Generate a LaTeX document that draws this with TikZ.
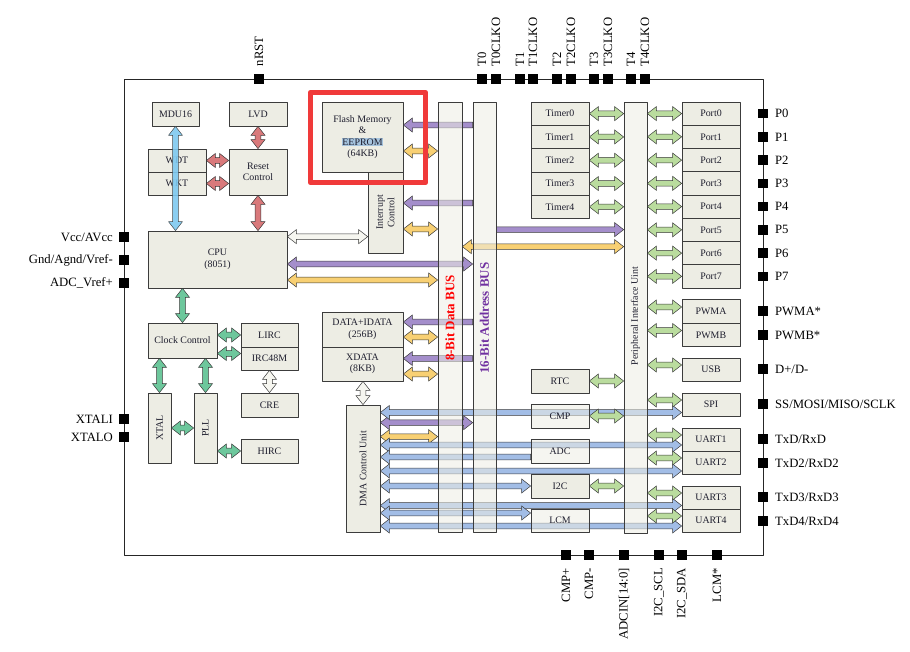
\documentclass[tikz,border=0pt]{standalone}
\usepackage{fontspec}
\setmainfont{Liberation Serif}
\usetikzlibrary{calc,positioning}
\pgfdeclarelayer{bg}
\pgfsetlayers{bg,main}
\definecolor{boxfill}{HTML}{EDEDE4}
\definecolor{boxline}{HTML}{3C3C3C}
\definecolor{boxtxt}{HTML}{1E1E2E}
\definecolor{aline}{HTML}{3A3A3A}
\definecolor{redA}{HTML}{D9797B}
\definecolor{skyA}{HTML}{7EC9F0}
\definecolor{grnA}{HTML}{6DC79C}
\definecolor{grnB}{HTML}{BADC9E}
\definecolor{purA}{HTML}{A48ECB}
\definecolor{yelA}{HTML}{F8D073}
\definecolor{bluA}{HTML}{A2BDE6}
\definecolor{whtA}{HTML}{F6F6F0}
\definecolor{hired}{HTML}{F03A3A}
\definecolor{eehl}{HTML}{A6C4DE}
\definecolor{abusc}{HTML}{7030A0}
\tikzset{
  box/.style={draw=boxline, line width=0.7pt, fill=boxfill, text=boxtxt, inner sep=0pt,
    align=center, font=\fontsize{9.9}{11.5}\selectfont},
  glass/.style={fill opacity=0.55, text opacity=1},
  pad/.style={fill=black, inner sep=0pt, minimum size=9.5pt},
  pinlbl/.style={inner sep=0pt, font=\fontsize{12.7}{14}\selectfont},
  lbl90/.style={rotate=90, align=center, inner sep=0pt, text=boxtxt,
    font=\fontsize{9.9}{11.5}\selectfont},
  buslbl/.style={rotate=90, inner sep=0pt, font=\fontsize{13}{15}\selectfont\bfseries},
  hilite/.style={draw=hired, line width=5.5pt},
  fat/.style={draw=aline, line width=0.5pt, fill=#1, to path={let \p1=(\tikztostart), \p2=(\tikztotarget) in
    -- ($(\p1)!9pt!(\p2)!7pt!90:(\p2)$) -- ($(\p1)!9pt!(\p2)!2.8pt!90:(\p2)$)
    -- ($(\p2)!9pt!(\p1)!2.8pt!90:(\p2)$) -- ($(\p2)!9pt!(\p1)!7pt!90:(\p2)$)
    -- (\p2)
    -- ($(\p2)!9pt!(\p1)!7pt!-90:(\p2)$) -- ($(\p2)!9pt!(\p1)!2.8pt!-90:(\p2)$)
    -- ($(\p1)!9pt!(\p2)!2.8pt!-90:(\p2)$) -- ($(\p1)!9pt!(\p2)!7pt!-90:(\p2)$)
    -- cycle}},
  fatto/.style={draw=aline, line width=0.5pt, fill=#1, to path={let \p1=(\tikztostart), \p2=(\tikztotarget) in
    -- ($(\p1)!2.8pt!90:(\p2)$)
    -- ($(\p2)!9pt!(\p1)!2.8pt!90:(\p2)$) -- ($(\p2)!9pt!(\p1)!7pt!90:(\p2)$)
    -- (\p2)
    -- ($(\p2)!9pt!(\p1)!7pt!-90:(\p2)$) -- ($(\p2)!9pt!(\p1)!2.8pt!-90:(\p2)$)
    -- ($(\p1)!2.8pt!-90:(\p2)$) -- cycle}}
}
\begin{document}
\begin{tikzpicture}[x=1pt, y=-1pt, line join=round]
\useasboundingbox (0,0) rectangle (910,652);
\draw[line width=0.8pt, draw=black!85] (124,79) rectangle (763,555);

% pins
\foreach \x/\t/\nm in {259/nRST/rst, 482/T0/t0, 496/T0CLKO/t0c, 520/T1/t1, 533/T1CLKO/t1c,
    557/T2/t2, 571/T2CLKO/t2c, 594/T3/t3, 608/T3CLKO/t3c, 631/T4/t4, 645/T4CLKO/t4c} {
  \node[pad] (\nm) at (\x,79) {};
  \node[pinlbl, rotate=90, anchor=west] (\nm lbl) at ([yshift=7.5pt]\nm.north) {\t};
}
\foreach \y/\t/\nm in {237/{Vcc/AVcc}/vcc, 260/{Gnd/Agnd/Vref-}/gnd, 283/{ADC\_Vref+}/vref,
    419/XTALI/xi, 437/XTALO/xo} {
  \node[pad] (\nm) at (124,\y) {};
  \node[pinlbl, anchor=east] (\nm lbl) at ([xshift=-6pt]\nm.west) {\t};
}
\foreach \i in {0,...,7} {
  \node[pad] (pp\i) at (763,113.6+23.25*\i) {};
  \node[pinlbl, anchor=west] (pp\i lbl) at ([xshift=7pt]pp\i.east) {P\i};
}
\foreach \y/\t/\nm in {311/PWMA*/ppwa, 335/PWMB*/ppwb, 369/{D+/D-}/pusb, 404/{SS/MOSI/MISO/SCLK}/pspi,
    439/{TxD/RxD}/pu1, 463/{TxD2/RxD2}/pu2, 497/{TxD3/RxD3}/pu3, 521/{TxD4/RxD4}/pu4} {
  \node[pad] (\nm) at (763,\y) {};
  \node[pinlbl, anchor=west] (\nm lbl) at ([xshift=7pt]\nm.east) {\t};
}
\foreach \x/\t/\nm in {566/CMP+/bcmpp, 589/CMP-/bcmpm, 624/ADCIN[14:0]/badc,
    659/I2C\_SCL/bscl, 682/I2C\_SDA/bsda, 717/LCM*/blcm} {
  \node[pad] (\nm) at (\x,555) {};
  \node[pinlbl, rotate=90, anchor=east] (\nm lbl) at ([yshift=-8pt]\nm.south) {\t};
}

% core and reset
\node[box, minimum width=47pt, minimum height=24pt] (mdu) at (175.5,114) {MDU16};
\node[box, minimum width=58pt, minimum height=24pt] (lvd) at (258,114) {LVD};
\node[box, minimum width=58pt, minimum height=23pt] (wdt) at (177,160.5) {WDT};
\node[box, minimum width=58pt, minimum height=23pt] (wkt) at (177,183.5) {WKT};
\node[box, minimum width=58pt, minimum height=46pt] (reset) at (258,172) {Reset\\Control};
\node[box, minimum width=139pt, minimum height=57pt] (cpu) at (217.5,259.5) {CPU\\(8051)};

% clocks
\node[box, minimum width=69pt, minimum height=35pt] (clk) at (182.5,340.5) {Clock Control};
\node[box, minimum width=57pt, minimum height=24pt] (lirc) at (269.5,335) {LIRC};
\node[box, minimum width=57pt, minimum height=23pt] (irc) at (269.5,358.5) {IRC48M};
\node[box, minimum width=57pt, minimum height=24pt] (cre) at (269.5,405) {CRE};
\node[box, minimum width=23pt, minimum height=70pt, label={[lbl90]center:XTAL}] (xtal) at (159.5,428) {};
\node[box, minimum width=23pt, minimum height=70pt, label={[lbl90]center:PLL}] (pll) at (205.5,428) {};
\node[box, minimum width=57pt, minimum height=24pt] (hirc) at (269.5,451) {HIRC};

% memories
\node[box, minimum width=81pt, minimum height=70pt] (flash) at (362.5,137)
  {Flash Memory\\\&\\{\setlength{\fboxsep}{0.4pt}\colorbox{eehl}{EEPROM}}\\(64KB)};
\node[box, minimum width=35pt, minimum height=81pt, label={[lbl90]center:Interrupt\\Control}] (irq) at (385.5,212.5) {};
\node[box, minimum width=81pt, minimum height=35pt] (data) at (362.5,329.5) {DATA+IDATA\\(256B)};
\node[box, minimum width=81pt, minimum height=34pt] (xdata) at (362.5,364) {XDATA\\(8KB)};
\node[box, minimum width=34pt, minimum height=127pt, label={[lbl90]center:DMA Control Unit}] (dma) at (363,468.5) {};

% buses
\node[box, glass, minimum width=24pt, minimum height=430pt] (dbus) at (450,317) {};
\node[box, glass, minimum width=23pt, minimum height=430pt] (abus) at (484.5,317) {};
\node[buslbl, text=red] (dlbl) at (450,318) {8-Bit Data BUS};
\node[buslbl, text=abusc] (albl) at (484.5,318) {16-Bit Address BUS};

% peripherals
\foreach \i in {0,...,4}
  \node[box, minimum width=58pt, minimum height=23.3pt] (tmr\i) at (560,113.65+23.3*\i) {Timer\i};
\node[box, minimum width=58pt, minimum height=24pt] (rtc) at (560,381) {RTC};
\node[box, glass, minimum width=58pt, minimum height=24pt] (cmp) at (560,416) {CMP};
\node[box, glass, minimum width=58pt, minimum height=24pt] (adc) at (560,451) {ADC};
\node[box, minimum width=58pt, minimum height=24pt] (i2c) at (560,486) {I2C};
\node[box, glass, minimum width=58pt, minimum height=23pt] (lcm) at (560,520.5) {LCM};
\node[box, glass, minimum width=23pt, minimum height=431pt] (piu) at (635.5,317.5) {};
\node[lbl90] (piulbl) at (635.5,316) {Peripheral Interface Uint};
\foreach \i in {0,...,7}
  \node[box, minimum width=58pt, minimum height=23.25pt] (port\i) at (711,113.6+23.25*\i) {Port\i};
\node[box, minimum width=58pt, minimum height=23.5pt] (pwma) at (711,311.5) {PWMA};
\node[box, minimum width=58pt, minimum height=23.5pt] (pwmb) at (711,335) {PWMB};
\node[box, minimum width=58pt, minimum height=23pt] (usb) at (711,369.5) {USB};
\node[box, minimum width=58pt, minimum height=23pt] (spi) at (711,404.5) {SPI};
\node[box, minimum width=58pt, minimum height=23pt] (uart1) at (711,439.5) {UART1};
\node[box, minimum width=58pt, minimum height=23pt] (uart2) at (711,462.5) {UART2};
\node[box, minimum width=58pt, minimum height=23pt] (uart3) at (711,497.5) {UART3};
\node[box, minimum width=58pt, minimum height=23pt] (uart4) at (711,520.5) {UART4};

\begin{pgfonlayer}{bg}
% reset and clock links
\draw[fat=redA] (lvd.south) to (reset.north);
\draw[fat=redA] (wdt.east) to (wdt.east -| reset.west);
\draw[fat=redA] (wkt.east) to (wkt.east -| reset.west);
\draw[fat=redA] (reset.south) to (reset.south |- cpu.north);
\draw[fat=grnA] (clk.north |- cpu.south) to (clk.north);
\draw[fat=grnA] (clk.east |- lirc.west) to (lirc.west);
\draw[fat=grnA] ([yshift=5pt]irc.west -| clk.east) to ([yshift=5pt]irc.west);
\draw[fat=grnA] (xtal.north |- clk.south) to (xtal.north);
\draw[fat=grnA] (pll.north |- clk.south) to (pll.north);
\draw[fat=grnA] (xtal.east) to (pll.west);
\draw[fat=grnA] (hirc.west -| pll.east) to (hirc.west);
\draw[fat=whtA] (irc.south) to (cre.north);

% bus links
\draw[fatto=purA] ([yshift=12pt]flash.east -| abus.west) to ([yshift=12pt]flash.east);
\draw[fat=yelA] ([yshift=-14pt]flash.east) to ([yshift=-14pt]flash.east -| dbus.west);
\draw[fatto=purA] ([yshift=9.5pt]irq.east -| abus.west) to ([yshift=9.5pt]irq.east);
\draw[fat=yelA] ([yshift=-16.5pt]irq.east) to ([yshift=-16.5pt]irq.east -| dbus.west);
\draw[fat=whtA] ([yshift=-6pt]cpu.north east) to ([yshift=-6pt]cpu.north east -| irq.west);
\draw[fat=purA] ([yshift=-4.5pt]cpu.east) to ([yshift=-4.5pt]cpu.east -| abus.west);
\draw[fat=yelA] ([yshift=-20.5pt]cpu.east) to ([yshift=-20.5pt]cpu.east -| dbus.west);
\draw[fatto=purA] ([yshift=7.5pt]data.east -| abus.west) to ([yshift=7.5pt]data.east);
\draw[fat=yelA] ([yshift=-7.5pt]data.east) to ([yshift=-7.5pt]data.east -| dbus.west);
\draw[fatto=purA] ([yshift=5.5pt]xdata.east -| abus.west) to ([yshift=5.5pt]xdata.east);
\draw[fat=yelA] ([yshift=-10pt]xdata.east) to ([yshift=-10pt]xdata.east -| dbus.west);
\draw[fat=whtA] (dma.north |- xdata.south) to (dma.north);
\draw[fatto=purA] ([yshift=-128pt]abus.north east) to ([yshift=-128pt]abus.north east -| piu.west);
\draw[fat=yelA] ([yshift=-145pt]dbus.north east) to ([yshift=-145pt]dbus.north east -| piu.west);

% dma links
\draw[fat=purA] ([yshift=-18pt]dma.north east) to ([yshift=-18pt]dma.north east -| abus.west);
\draw[fat=yelA] ([yshift=-32pt]dma.north east) to ([yshift=-32pt]dma.north east -| dbus.west);
\draw[fat=bluA] ([yshift=-8pt]spi.west -| dma.east) to ([yshift=-8pt]spi.west);
\draw[fat=bluA] ([yshift=-5.5pt]uart1.west -| dma.east) to ([yshift=-5.5pt]uart1.west);
\draw[fatto=bluA] ([yshift=-6pt]adc.west) to ([yshift=-6pt]adc.west -| dma.east);
\draw[fat=bluA] ([yshift=-8.5pt]uart2.west -| dma.east) to ([yshift=-8.5pt]uart2.west);
\draw[fat=bluA] (i2c.west -| dma.east) to (i2c.west);
\draw[fat=bluA] ([yshift=-8pt]uart3.west -| dma.east) to ([yshift=-8pt]uart3.west);
\draw[fat=bluA] ([yshift=7.5pt]lcm.west -| dma.east) to ([yshift=7.5pt]lcm.west);
\draw[fat=bluA] ([yshift=-5.5pt]uart4.west -| dma.east) to ([yshift=-5.5pt]uart4.west);

% peripheral interface links
\foreach \i in {0,...,4}
  \draw[fat=grnB] (tmr\i.east) to (tmr\i.east -| piu.west);
\foreach \pname in {rtc,cmp,i2c}
  \draw[fat=grnB] (\pname.east) to (\pname.east -| piu.west);
\foreach \i in {0,...,7}
  \draw[fat=grnB] (port\i.west -| piu.east) to (port\i.west);
\foreach \pname in {pwma,pwmb,usb,spi,uart1,uart2,uart3,uart4}
  \draw[fat=grnB] ([yshift=4.5pt]\pname.west -| piu.east) to ([yshift=4.5pt]\pname.west);
\end{pgfonlayer}

\draw[fat=skyA, opacity=0.9] (mdu.south) to (mdu.south |- cpu.north);

\draw[hilite] ([shift={(-11.25pt,9.25pt)}]flash.north west) rectangle ([shift={(22.25pt,-10.25pt)}]flash.south east);
\end{tikzpicture}
\end{document}
